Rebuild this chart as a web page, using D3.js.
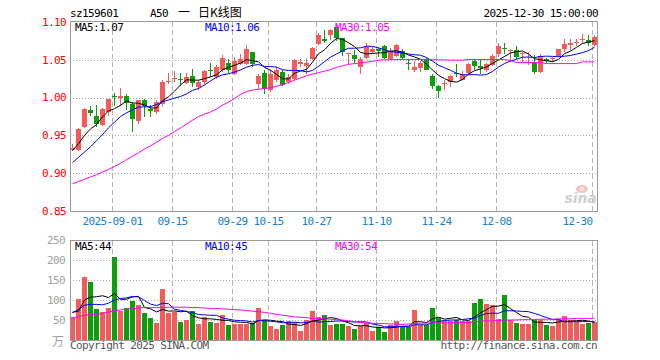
<!DOCTYPE html>
<html><head><meta charset="utf-8">
<script src="https://cdn.jsdelivr.net/npm/d3@7"></script>
<style>html,body{margin:0;padding:0;background:#fff}svg{display:block}</style>
</head><body>
<svg id="chart" width="660" height="360"></svg>
<script>
// ---------- data ----------
const dates = ["08-21","08-22","08-25","08-26","08-27","08-28","08-29",
"09-01","09-02","09-03","09-04","09-05","09-08","09-09","09-10","09-11","09-12","09-15","09-16","09-17","09-18","09-19","09-22","09-23","09-24","09-25","09-26","09-29","09-30",
"10-09","10-10","10-13","10-14","10-15","10-16","10-17","10-20","10-21","10-22","10-23","10-24","10-27","10-28","10-29","10-30","10-31",
"11-03","11-04","11-05","11-06","11-07","11-10","11-11","11-12","11-13","11-14","11-17","11-18","11-19","11-20","11-21","11-24","11-25","11-26","11-27","11-28",
"12-01","12-02","12-03","12-04","12-05","12-08","12-09","12-10","12-11","12-12","12-15","12-16","12-17","12-18","12-19","12-22","12-23","12-24","12-25","12-26","12-29","12-30"];

const open  = [0.931,0.9307,0.9617,0.9830,0.9759,0.9639,0.9808,1.0016,0.9994,1.0016,0.9918,0.9697,0.9972,0.9852,0.9808,0.9918,1.0202,1.0242,1.0247,1.0193,1.0282,1.0140,1.0207,1.0371,1.0273,1.0362,1.0464,1.0317,1.0450,1.0450,1.0601,1.0184,1.0326,1.0096,1.0229,1.0340,1.0207,1.0251,1.0450,1.0415,1.0504,1.0707,1.0769,1.0827,1.0929,1.0783,1.0579,1.0561,1.0406,1.0530,1.0606,1.0637,1.0681,1.0504,1.0548,1.0614,1.0459,1.0362,1.0397,1.0517,1.0282,1.0149,1.0176,1.0207,1.0331,1.0238,1.0326,1.0486,1.0415,1.0362,1.0428,1.0574,1.0659,1.0619,1.0628,1.0574,1.0464,1.0459,1.0340,1.0517,1.0508,1.0548,1.0637,1.0690,1.0716,1.0761,1.0761,1.0694];
const high  = [0.938,0.9599,0.9861,0.9887,0.9896,0.9861,0.9985,1.0060,1.0127,1.0051,0.9940,0.9972,0.9985,0.9896,0.9963,1.0238,1.0331,1.0353,1.0331,1.0331,1.0384,1.0238,1.0371,1.0459,1.0428,1.0561,1.0504,1.0539,1.0583,1.0694,1.0601,1.0317,1.0362,1.0362,1.0406,1.0362,1.0317,1.0517,1.0504,1.0504,1.0663,1.0849,1.0894,1.0903,1.0973,1.0783,1.0592,1.0628,1.0539,1.0716,1.0663,1.0672,1.0694,1.0650,1.0707,1.0637,1.0504,1.0486,1.0486,1.0530,1.0317,1.0162,1.0229,1.0295,1.0450,1.0353,1.0459,1.0504,1.0495,1.0459,1.0583,1.0716,1.0725,1.0637,1.0681,1.0606,1.0606,1.0561,1.0574,1.0530,1.0539,1.0646,1.0770,1.0770,1.0770,1.0840,1.0827,1.0827];
const low   = [0.929,0.9298,0.9599,0.9763,0.9617,0.9626,0.9763,0.9883,0.9883,0.9830,0.9542,0.9652,0.9741,0.9750,0.9785,0.9874,1.0184,1.0207,1.0149,1.0184,1.0140,1.0096,1.0184,1.0273,1.0251,1.0340,1.0326,1.0295,1.0428,1.0428,1.0406,1.0118,1.0042,1.0074,1.0207,1.0149,1.0184,1.0229,1.0406,1.0317,1.0495,1.0694,1.0725,1.0761,1.0752,1.0548,1.0450,1.0450,1.0317,1.0517,1.0583,1.0539,1.0517,1.0495,1.0539,1.0504,1.0371,1.0340,1.0340,1.0362,1.0118,0.9998,1.0096,1.0140,1.0273,1.0229,1.0317,1.0371,1.0317,1.0340,1.0415,1.0539,1.0583,1.0473,1.0517,1.0473,1.0428,1.0317,1.0326,1.0459,1.0473,1.0539,1.0606,1.0628,1.0681,1.0725,1.0681,1.0681];
const close = [0.933,0.9586,0.9852,0.9794,0.9652,0.9843,0.9976,1.0003,1.0016,0.9932,0.9715,0.9963,0.9883,0.9817,0.9936,1.0202,1.0215,1.0255,1.0229,1.0273,1.0193,1.0202,1.0353,1.0353,1.0406,1.0526,1.0362,1.0486,1.0504,1.0637,1.0450,1.0287,1.0118,1.0317,1.0362,1.0162,1.0273,1.0495,1.0468,1.0459,1.0650,1.0827,1.0752,1.0894,1.0783,1.0606,1.0588,1.0504,1.0517,1.0672,1.0637,1.0619,1.0530,1.0619,1.0694,1.0530,1.0442,1.0406,1.0459,1.0371,1.0149,1.0087,1.0189,1.0282,1.0317,1.0317,1.0450,1.0415,1.0397,1.0450,1.0548,1.0681,1.0641,1.0632,1.0539,1.0588,1.0477,1.0340,1.0548,1.0486,1.0521,1.0637,1.0707,1.0725,1.0734,1.0778,1.0725,1.0805];
const volume = [58,102,158,145,78,70,80,208,72,80,98,88,68,55,42,128,68,70,45,50,72,40,58,45,42,62,38,40,40,40,42,80,50,35,28,38,48,45,23,50,72,58,62,38,40,40,35,28,35,42,22,32,20,38,48,35,32,75,38,38,80,55,50,48,50,48,48,92,102,90,88,52,112,50,42,40,40,50,50,38,35,52,60,50,45,40,42,45];

const ma5Head  = [0.930,0.939,0.950,0.9586];
const ma10Head = [0.914,0.921,0.928,0.935,0.943,0.951,0.960,0.9675,0.975];
const ma30 = [0.886,0.889,0.892,0.895,0.898,0.9015,0.905,0.909,0.913,0.918,0.9225,0.927,0.932,0.936,0.941,0.946,0.950,0.955,0.960,0.965,0.970,0.975,0.978,0.981,0.985,0.990,0.994,0.999,1.004,1.008,1.010,1.011,1.012,1.013,1.015,1.017,1.020,1.023,1.026,1.029,1.031,1.033,1.035,1.037,1.040,1.042,1.044,1.045,1.046,1.047,1.048,1.0495,1.050,1.050,1.0504,1.0504,1.0505,1.0504,1.0504,1.0502,1.050,1.050,1.0498,1.0496,1.0495,1.0495,1.0504,1.0504,1.0504,1.0504,1.0504,1.0504,1.0504,1.049,1.0464,1.0464,1.0464,1.0464,1.0464,1.045,1.045,1.045,1.045,1.045,1.045,1.0473,1.0473,1.0473];
const volMa5Head  = [69,72,100,107];
const volMa10Head = [69,76,87,89,89,88,92,100,104];
const volMa30 = [54,58,62,63,64,66,70,73,75,77,78,80,81,81,81,81,82,82,82,82,81,81,80,79,79,78,77,76,75,74,72,71,69,67,64,62,60,58,57,56,54,54,53,52,51,50,48,46,44,43,42,41,41,40,40,39,40,41,42,42,43,43,43,43,44,44,44,45,47,48,48,49,50,50,50,51,51,51,52,52,52,53,53,53,54,54,54,54];

const priceTicks = [0.85,0.90,0.95,1.00,1.05,1.10];
const volTicks = [50,100,150,200,250];
const dateTickKeys   = ["09-01","09-15","09-29","10-15","10-27","11-10","11-24","12-08","12-30"];
const dateTickLabels = ["2025-09-01","09-15","09-29","10-15","10-27","11-10","11-24","12-08","12-30"];
const priceLegend = [["MA5:","1.07"],["MA10:","1.06"],["MA30:","1.05"]];
const volLegend   = [["MA5:","44"],["MA10:","45"],["MA30:","54"]];

// ---------- drawing ----------
const svg = d3.select("#chart");
const MONO = "'DejaVu Sans Mono','Liberation Mono',monospace";
const CJK = "'Noto Sans CJK SC','DejaVu Sans',sans-serif";
const RED = "#F65A5A", GREEN = "#09A009";
const legendColors = ["#000000","#0000FF","#FF00FF"];

const L = 70, R = 597;
const x = d3.scaleBand().domain(dates).range([69.5, 597.5]).padding(0);
const cx = d => x(d) + 3;
const y = d3.scaleLinear().domain([0.85, 1.10]).range([211, 22]);
const yv = d3.scaleLinear().domain([0, 250]).range([340, 240]);

function movingAvg(vals, n, head) {
  return vals.map((v, i) => i < n - 1 ? head[i] : d3.mean(vals.slice(i - n + 1, i + 1)));
}
const ma5 = movingAvg(close, 5, ma5Head);
const ma10 = movingAvg(close, 10, ma10Head);
const vma5 = movingAvg(volume, 5, volMa5Head);
const vma10 = movingAvg(volume, 10, volMa10Head);

function txt(g, xx, yy, s, opts) {
  const t = g.append("text").attr("x", xx).attr("y", yy).text(s)
    .attr("font-family", opts.font || MONO).attr("font-size", opts.size || 11)
    .attr("fill", opts.fill || "#000");
  if (opts.anchor) t.attr("text-anchor", opts.anchor);
  if (opts.ls !== undefined) t.attr("letter-spacing", opts.ls);
  return t;
}

// header
txt(svg, 70, 17, "sz159601", {ls: -0.6});
txt(svg, 150, 17, "A50", {ls: -0.6});
txt(svg, 178, 17, "一", {font: CJK, size: 12});
txt(svg, 198, 17, "日K线图", {font: CJK, size: 12});
txt(svg, 598, 17, "2025-12-30 15:00:00", {anchor: "end", ls: -0.6});

function panel(top, bottom, hTicks, yscale) {
  const g = svg.append("g").attr("shape-rendering", "crispEdges");
  g.selectAll("line.h").data(hTicks).enter().append("line")
    .attr("x1", L).attr("x2", R)
    .attr("y1", d => Math.round(yscale(d)) + 0.5).attr("y2", d => Math.round(yscale(d)) + 0.5)
    .attr("stroke", "#aaa").attr("stroke-dasharray", "1,2");
  g.selectAll("line.v").data(dateTickKeys).enter().append("line")
    .attr("x1", d => x(d) + 1).attr("x2", d => x(d) + 1)
    .attr("y1", top).attr("y2", bottom)
    .attr("stroke", "#b4b4b4").attr("stroke-dasharray", "5,3");
  return g;
}

panel(22, 211, priceTicks.filter(t => t > 0.85 && t < 1.10), y);
panel(241, 340, volTicks.filter(t => t < 250), yv);

// watermark (sina logo)
const wm = svg.append("g");
wm.append("ellipse").attr("cx", 582).attr("cy", 189).attr("rx", 6).attr("ry", 4).attr("fill", "#f3c4c4");
wm.append("circle").attr("cx", 582).attr("cy", 189).attr("r", 2).attr("fill", "#fff");
wm.append("circle").attr("cx", 582).attr("cy", 189).attr("r", 1).attr("fill", "#f3c4c4");
txt(wm, 597, 203, "sina", {font: "'DejaVu Sans',sans-serif", size: 14, fill: "#cfcfcf", anchor: "end"})
  .attr("font-style", "italic").attr("font-weight", "bold");

// candles
const idx = d3.range(dates.length);
const col = i => close[i] >= open[i] ? RED : GREEN;
const cg = svg.append("g").attr("shape-rendering", "crispEdges");
cg.selectAll("line.wick").data(idx).enter().append("line")
  .attr("x1", i => cx(dates[i])).attr("x2", i => cx(dates[i]))
  .attr("y1", i => y(high[i])).attr("y2", i => y(low[i]))
  .attr("stroke", col).attr("stroke-width", 1);
cg.selectAll("rect.body").data(idx).enter().append("rect")
  .attr("x", i => cx(dates[i]) - 2.5).attr("width", 5)
  .attr("y", i => y(Math.max(open[i], close[i])))
  .attr("height", i => Math.max(1, y(Math.min(open[i], close[i])) - y(Math.max(open[i], close[i]))))
  .attr("fill", col);

// price MA lines
const lineP = d3.line().x((v, i) => cx(dates[i])).y(v => y(v));
[ma5, ma10, ma30].forEach((arr, k) => {
  svg.append("path").attr("d", lineP(arr)).attr("fill", "none")
    .attr("stroke", legendColors[k]).attr("stroke-width", 1);
});

// volume bars
svg.append("g").attr("shape-rendering", "crispEdges").selectAll("rect").data(idx).enter().append("rect")
  .attr("x", i => cx(dates[i]) - 2.5).attr("width", 5)
  .attr("y", i => yv(volume[i])).attr("height", i => yv(0) - yv(volume[i]))
  .attr("fill", col);
const lineV = d3.line().x((v, i) => cx(dates[i])).y(v => yv(v));
[vma5, vma10, volMa30].forEach((arr, k) => {
  svg.append("path").attr("d", lineV(arr)).attr("fill", "none")
    .attr("stroke", legendColors[k]).attr("stroke-width", 1);
});

// borders
const bg = svg.append("g").attr("shape-rendering", "crispEdges");
bg.append("rect").attr("x", 70.5).attr("y", 21.5).attr("width", 526.5).attr("height", 190)
  .attr("fill", "none").attr("stroke", "#999");
bg.append("rect").attr("x", 70.5).attr("y", 240.5).attr("width", 526.5).attr("height", 100)
  .attr("fill", "none").attr("stroke", "#999");

// price axis labels
svg.append("g").selectAll("text").data(priceTicks).enter().append("text")
  .attr("x", 66).attr("y", d => y(d)).attr("dy", "0.35em")
  .attr("text-anchor", "end").attr("font-family", MONO).attr("font-size", 11)
  .attr("letter-spacing", -0.6).attr("fill", "#FF0000")
  .text(d => d.toFixed(2));

// volume axis labels
svg.append("g").selectAll("text").data(volTicks).enter().append("text")
  .attr("x", 65).attr("y", d => yv(d)).attr("dy", "0.35em")
  .attr("text-anchor", "end").attr("font-family", MONO).attr("font-size", 11)
  .attr("letter-spacing", -0.6).attr("fill", "#a0a0a0")
  .text(d => d);
txt(svg, 64, 346, "万", {font: CJK, size: 12, fill: "#a0a0a0", anchor: "end"});

// date labels
svg.append("g").selectAll("text").data(dateTickKeys).enter().append("text")
  .attr("x", d => x(d) + 1)
  .attr("y", 225)
  .attr("text-anchor", (d, i) => i === dateTickKeys.length - 1 ? "end" : "middle")
  .attr("font-family", MONO).attr("font-size", 11).attr("letter-spacing", -0.6)
  .attr("fill", "#1580CC")
  .text((d, i) => dateTickLabels[i]);

// legends
const legX = [75, 205, 335];
priceLegend.forEach((p, k) => txt(svg, legX[k], 31, p[0] + p[1], {fill: legendColors[k], ls: -0.6}));
volLegend.forEach((p, k) => txt(svg, legX[k], 250, p[0] + p[1], {fill: legendColors[k], ls: -0.6}));

// footer
txt(svg, 70, 349, "Copyright 2025 SINA.COM", {fill: "#555", ls: -0.6});
txt(svg, 597, 349, "http://finance.sina.com.cn", {fill: "#555", anchor: "end", ls: -0.6});
</script>
</body></html>
